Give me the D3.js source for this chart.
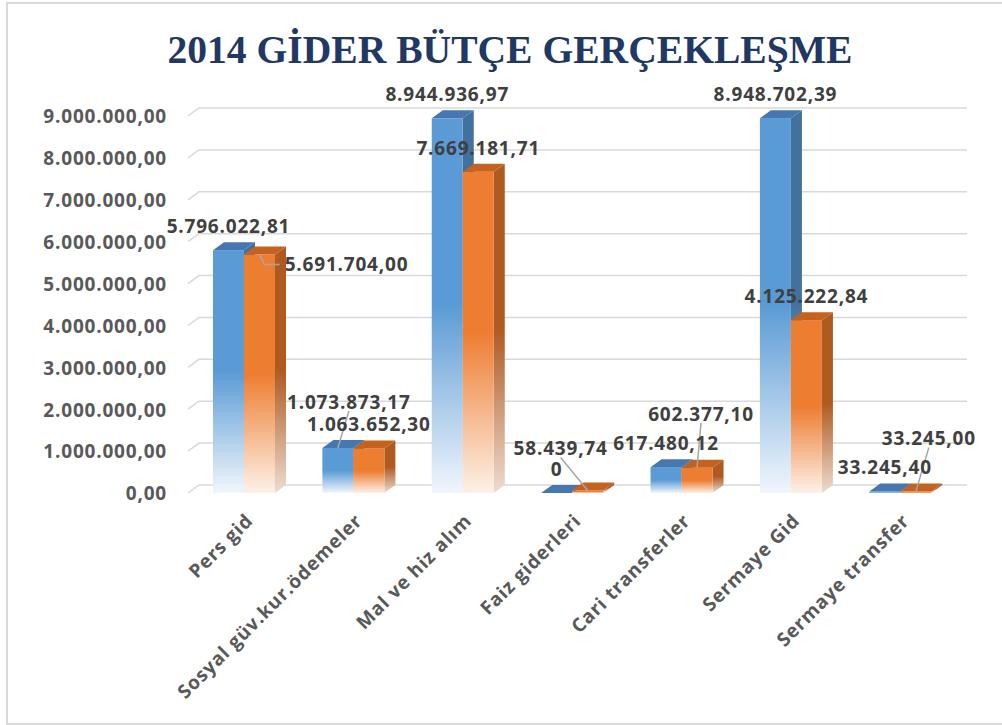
<!DOCTYPE html>
<html>
<head>
<meta charset="utf-8">
<script src="https://cdn.jsdelivr.net/npm/d3@7"></script>
<style>
  body { margin: 0; background: #fff; }
  svg { display: block; }
</style>
</head>
<body>
<svg id="chart" width="1002" height="725"></svg>
<script>
// 2014 Gider Bütçe Gerçekleşme — 3D clustered columns

const categories = ["Pers gid", "Sosyal güv.kur.ödemeler", "Mal ve hiz alım", "Faiz giderleri",
  "Cari transferler", "Sermaye Gid", "Sermaye transfer"];
const seriesKeys = ["butce", "gerceklesme"];
const butce = [5796022.81, 1073873.17, 8944936.97, 0, 617480.12, 8948702.39, 33245.40];
const gerceklesme = [5691704.00, 1063652.30, 7669181.71, 58439.74, 602377.10, 4125222.84, 33245.00];
const yTicks = [0, 1000000, 2000000, 3000000, 4000000, 5000000, 6000000, 7000000, 8000000, 9000000];

// labels that were dragged off their default spot (category-series), with a leader line
const labelMoves = {
  "0-1": { dx: 87, dy: 34, elbow: true },
  "1-0": { dx: 11, dy: -22 },
  "3-1": { dx: -27, dy: -18 },
  "4-1": { dx: 4, dy: -30 },
  "6-1": { dx: 13, dy: -29 }
};

const svg = d3.select("#chart");
const depthX = 11, depthY = 8;

const colors = {
  butce: { front: "#5B9BD5", fade: "#f1f6fc", side: "#41719C", sideFade: "#dfe8f1", top: "#4677B0" },
  gerceklesme: { front: "#ED7D31", fade: "#fdf1e8", side: "#AE5A21", sideFade: "#eddcd0", top: "#C4621E" }
};

const locale = d3.formatLocale({ decimal: ",", thousands: ".", grouping: [3], currency: ["", ""] });
const fmt = locale.format(",.2f");
const labelText = v => (v === 0 ? "0" : fmt(v));

// frame
svg.append("rect")
  .attr("x", 7).attr("y", 3).attr("width", 1000).attr("height", 721)
  .attr("fill", "#fff").attr("stroke", "#d9d9d9").attr("stroke-width", 2);

// title
svg.append("text")
  .attr("x", 510).attr("y", 63)
  .attr("text-anchor", "middle")
  .attr("font-family", "'Liberation Serif', 'Times New Roman', serif")
  .attr("font-weight", "bold")
  .attr("font-size", 39.6)
  .attr("fill", "#1F3864")
  .text("2014 GİDER BÜTÇE GERÇEKLEŞME");

const x = d3.scaleBand().domain(categories).range([189.3, 955]).paddingInner(0.433).paddingOuter(0.2165);
const xs = d3.scaleBand().domain(seriesKeys).range([0, x.bandwidth()]);
const y = d3.scaleLinear().domain([0, 9000000]).range([493, 116]);

// gridlines on the back wall, with the short slant of the side wall
const grid = svg.append("g").attr("fill", "none").attr("stroke", "#d9d9d9").attr("stroke-width", 1.5);
yTicks.forEach(t => {
  const yy = y(t);
  grid.append("path")
    .attr("d", `M188,${yy} L${188 + depthX},${yy - depthY} L${955 + depthX + 1},${yy - depthY}`);
});

// y axis labels
const yAxis = d3.axisLeft(y).tickValues(yTicks).tickFormat(fmt).tickSize(0).tickPadding(0);
const yg = svg.append("g").attr("transform", "translate(167,0)").call(yAxis);
yg.select(".domain").remove();
yg.selectAll("text")
  .attr("font-family", "'Open Sans', sans-serif")
  .attr("font-weight", "bold")
  .attr("font-size", 19)
  .attr("letter-spacing", 0.8)
  .attr("fill", "#595959")
  .attr("dy", "0.36em");

// gradients
const defs = svg.append("defs");
seriesKeys.forEach(k => {
  const c = colors[k];
  [["front", c.front, c.fade], ["side", c.side, c.sideFade]].forEach(([part, a, b]) => {
    const g = defs.append("linearGradient")
      .attr("id", `g-${k}-${part}`)
      .attr("x1", 0).attr("y1", 0).attr("x2", 0).attr("y2", 1);
    g.append("stop").attr("offset", "0").attr("stop-color", a);
    g.append("stop").attr("offset", "0.5").attr("stop-color", a);
    g.append("stop").attr("offset", "1").attr("stop-color", b);
  });
});

const bars = [];
categories.forEach((cat, i) => {
  bars.push({ cat, i, s: 0, key: "butce", value: butce[i] });
  bars.push({ cat, i, s: 1, key: "gerceklesme", value: gerceklesme[i] });
});

const barG = svg.append("g");
bars.forEach(d => {
  const x0 = x(d.cat) + xs(d.key);
  const w = xs.bandwidth();
  const top = y(d.value);
  const bot = y(0);
  const c = colors[d.key];
  const g = barG.append("g");
  if (bot - top > 0.5) {
    g.append("path")
      .attr("d", `M${x0 + w},${top} L${x0 + w + depthX},${top - depthY} L${x0 + w + depthX},${bot - depthY} L${x0 + w},${bot} Z`)
      .attr("fill", `url(#g-${d.key}-side)`);
    g.append("rect")
      .attr("x", x0).attr("y", top).attr("width", w).attr("height", bot - top)
      .attr("fill", `url(#g-${d.key}-front)`);
  }
  g.append("path")
    .attr("d", `M${x0},${top} L${x0 + depthX},${top - depthY} L${x0 + w + depthX},${top - depthY} L${x0 + w},${top} Z`)
    .attr("fill", c.top);
  d.cx = x0 + w / 2;
  d.top = top;
});

// data labels + leader lines
const lineG = svg.append("g").attr("stroke", "#a6a6a6").attr("stroke-width", 1.5).attr("fill", "none");
const labG = svg.append("g")
  .attr("font-family", "'Open Sans', sans-serif")
  .attr("font-weight", "bold")
  .attr("font-size", 19)
  .attr("letter-spacing", 0.8)
  .attr("fill", "#404040")
  .attr("text-anchor", "middle");

bars.forEach(d => {
  const mv = labelMoves[`${d.i}-${d.s}`];
  const lx = d.cx + (mv ? mv.dx : 0);
  const ly = d.top - 24 + (mv ? mv.dy : 0);
  const t = labG.append("text")
    .attr("x", lx).attr("y", ly).attr("dy", "0.36em")
    .text(labelText(d.value));
  if (!mv) return;
  if (mv.elbow) {
    const left = lx - t.node().getComputedTextLength() / 2;
    lineG.append("path").attr("d", `M${d.cx},${d.top} L${d.cx + 5},${ly} L${left - 5},${ly}`);
  } else {
    lineG.append("path").attr("d", `M${lx},${ly + 9} L${d.cx},${d.top}`);
  }
});

// category labels
svg.append("g")
  .selectAll("text")
  .data(categories)
  .join("text")
  .attr("transform", d => `translate(${x(d) + x.bandwidth() / 2 + 10},522) rotate(-45)`)
  .attr("text-anchor", "end")
  .attr("font-family", "'Open Sans', sans-serif")
  .attr("font-weight", "bold")
  .attr("font-size", 19)
  .attr("letter-spacing", 0.8)
  .attr("fill", "#595959")
  .text(d => d);
</script>
</body>
</html>
